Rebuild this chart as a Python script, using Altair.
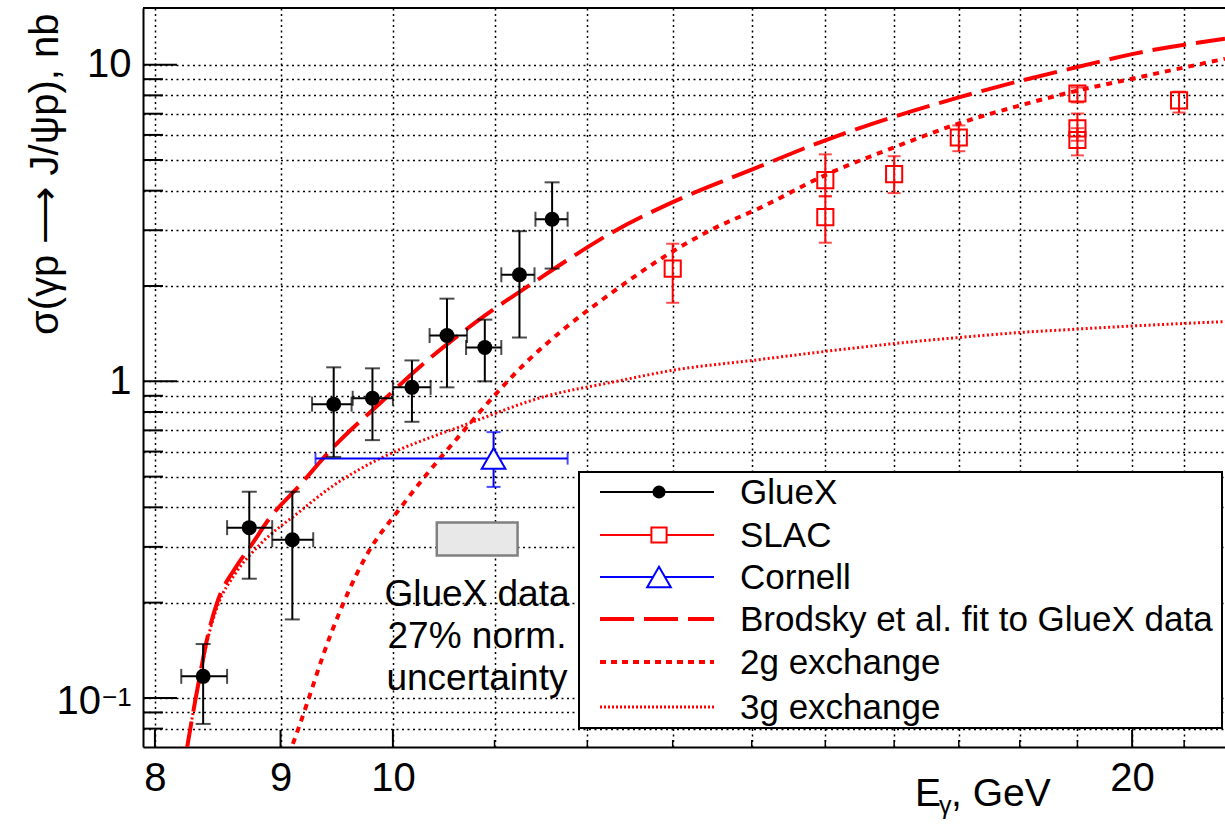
import altair as alt
import pandas as pd

FONT = "Liberation Sans"

# ---------------- data ----------------
# GlueX
gx_E = [8.37, 8.74, 9.10, 9.46, 9.81, 10.18, 10.52, 10.90, 11.26, 11.61]
gx_E_lo = [8.20, 8.56, 8.93, 9.27, 9.63, 10.00, 10.35, 10.71, 11.07, 11.43]
gx_E_hi = [8.56, 8.93, 9.28, 9.62, 10.00, 10.36, 10.72, 11.07, 11.42, 11.78]
gx_s = [0.117, 0.345, 0.316, 0.847, 0.884, 0.957, 1.395, 1.279, 2.17, 3.25]
gx_s_lo = [0.0828, 0.238, 0.177, 0.577, 0.652, 0.745, 0.957, 1.00, 1.375, 2.27]
gx_s_hi = [0.148, 0.448, 0.448, 1.107, 1.099, 1.164, 1.824, 1.566, 2.98, 4.25]

# SLAC
sl_E = [13.0, 15.0, 15.0, 16.0, 17.0, 19.0, 19.0, 19.0, 20.9]
sl_s = [2.27, 4.32, 3.30, 4.51, 5.89, 8.11, 6.29, 5.78, 7.71]
sl_s_lo = [1.77, 3.84, 2.74, 3.93, 5.33, 7.60, 5.75, 5.17, 7.06]
sl_s_hi = [2.72, 5.21, 3.84, 5.14, 6.43, 8.47, 7.01, 6.30, 8.22]

# Cornell
co_E = [10.99]
co_E_lo = [9.30]
co_E_hi = [11.78]
co_s = [0.57]
co_s_lo = [0.464]
co_s_hi = [0.691]

# Brodsky et al. fit (2g + 3g)
br_E = [8.235, 8.31, 8.35, 8.40, 8.49, 8.62, 8.76, 8.90, 9.16, 9.44, 9.90, 10.34,
        10.91, 11.43, 11.83, 12.28, 13.0, 14.0, 15.0, 16.0, 17.0, 18.0, 19.0, 20.0, 21.82]
br_s = [0.066, 0.099, 0.121, 0.153, 0.205, 0.255, 0.305, 0.366, 0.468, 0.61, 0.865, 1.173,
        1.62, 2.07, 2.47, 2.95, 3.68, 4.66, 5.77, 6.85, 7.88, 8.88, 9.83, 10.80, 12.07]

# 2g exchange
g2_E = [9.07, 9.16, 9.44, 9.75, 10.08, 10.34, 10.64, 11.01, 11.33, 11.76, 12.28, 12.87,
        13.48, 14.13, 15.0, 16.0, 17.0, 18.0, 19.0, 20.0, 21.82]
g2_s = [0.066, 0.0816, 0.161, 0.280, 0.402, 0.517, 0.671, 0.910, 1.147, 1.479, 1.905, 2.45,
        3.01, 3.55, 4.48, 5.48, 6.52, 7.43, 8.28, 9.03, 10.44]

# 3g exchange
g3_E = [8.235, 8.31, 8.35, 8.40, 8.49, 8.62, 8.82, 9.16, 9.44, 9.75, 10.03, 10.37, 10.64,
        11.54, 12.28, 13.07, 13.92, 15.0, 16.0, 17.0, 18.0, 19.0, 20.0, 21.82]
g3_s = [0.066, 0.099, 0.12, 0.15, 0.198, 0.245, 0.303, 0.387, 0.464, 0.541, 0.602, 0.667, 0.717,
        0.897, 0.993, 1.091, 1.157, 1.243, 1.316, 1.375, 1.426, 1.462, 1.495, 1.544]

# normalisation uncertainty box
box_E = [10.42, 11.24]
box_s = [0.282, 0.358]
note_lines = ["GlueX data", "27% norm.", "uncertainty"]
note_E = [10.82, 10.82, 10.82]
note_s = [0.1947, 0.1437, 0.106]

x_grid = list(range(8, 22))
x_labels = [8, 9, 10, 20]
y_grid = [0.08, 0.09, 0.1, 0.2, 0.3, 0.4, 0.5, 0.6, 0.7, 0.8, 0.9,
          1, 2, 3, 4, 5, 6, 7, 8, 9, 10]
y_major = [0.1, 1, 10]
y_minor = [v for v in y_grid if v not in y_major]
x_major = [8, 9, 10, 20]
x_minor = [11, 12, 13, 14, 15, 16, 17, 18, 19, 21]

legend_labels = ["GlueX", "SLAC", "Cornell", "Brodsky et al. fit to GlueX data",
                 "2g exchange", "3g exchange"]

# ---------------- layout ----------------
W, H = 1082, 739
xs = alt.Scale(type="log", domain=[7.911, 21.82], nice=False)
ys = alt.Scale(type="log", domain=[0.0700, 15.1], nice=False)

gx = pd.DataFrame(dict(E=gx_E, Elo=gx_E_lo, Ehi=gx_E_hi, s=gx_s, slo=gx_s_lo, shi=gx_s_hi))
sl = pd.DataFrame(dict(E=sl_E, s=sl_s, slo=sl_s_lo, shi=sl_s_hi))
co = pd.DataFrame(dict(E=co_E, Elo=co_E_lo, Ehi=co_E_hi, s=co_s, slo=co_s_lo, shi=co_s_hi))
br = pd.DataFrame(dict(E=br_E, s=br_s))
g2 = pd.DataFrame(dict(E=g2_E, s=g2_s))
g3 = pd.DataFrame(dict(E=g3_E, s=g3_s))
bx = pd.DataFrame(dict(E1=[box_E[0]], E2=[box_E[1]], s1=[box_s[0]], s2=[box_s[1]]))
nt = pd.DataFrame(dict(E=note_E, s=note_s, t=note_lines))

xlab_expr = "indexof([" + ",".join(str(v) for v in x_labels) + "], datum.value) >= 0 ? '' + datum.value : ''"
ylab_expr = "datum.value == 10 ? '10' : (datum.value == 1 ? '1' : '')"

Y_TITLE = "\u03c3(\u03b3p \u27f6 J/\u03c8p), nb"

GRID = dict(grid=True, gridDash=[2, 3.5], gridColor="#000000", gridWidth=1.5, gridOpacity=1)

x_axis = alt.Axis(values=x_grid, labelExpr=xlab_expr, ticks=False, tickSize=0,
                  domain=True, domainColor="black", domainWidth=2,
                  labelFont=FONT, labelFontSize=40, labelColor="black",
                  labelBaseline="alphabetic", labelPadding=43, labelOverlap=False,
                  labelFlush=False, labelBound=False, title=None, **GRID)
y_axis = alt.Axis(values=y_grid, labelExpr=ylab_expr, ticks=False, tickSize=0,
                  domain=True, domainColor="black", domainWidth=2,
                  labelFont=FONT, labelFontSize=40, labelColor="black",
                  labelPadding=12, labelOverlap=False, labelFlush=False, labelBound=False,
                  title=Y_TITLE, titleFont=FONT,
                  titleFontSize=40, titleFontWeight="normal", titleColor="black",
                  titleAngle=270, titleAlign="right", titleBaseline="middle",
                  titleX=-98, titleY=5, **GRID)

RED = "#ff0000"
BLUE = "#0000ff"


def X(field="E"):
    return alt.X(field + ":Q", scale=xs, axis=x_axis, title=None)


def Y(field="s"):
    return alt.Y(field + ":Q", scale=ys, axis=y_axis, title=Y_TITLE)


# curves
brodsky = alt.Chart(br).mark_line(color=RED, strokeWidth=4, strokeDash=[34, 10], clip=True,
                                  interpolate="monotone").encode(x=X(), y=Y())
two_g = alt.Chart(g2).mark_line(color=RED, strokeWidth=4, strokeDash=[6, 6], clip=True,
                                interpolate="monotone").encode(x=X(), y=Y())
three_g = alt.Chart(g3).mark_line(color=RED, strokeWidth=3, strokeDash=[2, 2.5], clip=True,
                                  interpolate="monotone").encode(x=X(), y=Y())

# normalisation box and note
box = alt.Chart(bx).mark_rect(fill="#e8e8e8", stroke="#808080", strokeWidth=2.5).encode(
    x=X("E1"), x2="E2", y=Y("s1"), y2="s2")
note = alt.Chart(nt).mark_text(font=FONT, fontSize=37, color="black", align="center",
                               baseline="alphabetic").encode(x=X(), y=Y(), text="t:N")

# Cornell
co_h = alt.Chart(co).mark_rule(color=BLUE, strokeWidth=2).encode(x=X("Elo"), x2="Ehi", y=Y())
co_v = alt.Chart(co).mark_rule(color=BLUE, strokeWidth=2).encode(x=X(), y=Y("slo"), y2="shi")
co_cx = alt.Chart(co).transform_fold(["Elo", "Ehi"], as_=["k", "v"]).mark_tick(
    color=BLUE, orient="vertical", size=12, thickness=2).encode(x=X("v"), y=Y())
co_cy = alt.Chart(co).transform_fold(["slo", "shi"], as_=["k", "v"]).mark_tick(
    color=BLUE, orient="horizontal", size=14, thickness=2).encode(x=X(), y=Y("v"))
co_pt = alt.Chart(co).mark_point(shape="triangle-up", size=560, filled=True, fill="white",
                                 stroke=BLUE, strokeWidth=2, opacity=1).encode(x=X(), y=Y())

# SLAC
sl_v = alt.Chart(sl).mark_rule(color=RED, strokeWidth=2).encode(x=X(), y=Y("slo"), y2="shi")
sl_c = alt.Chart(sl).transform_fold(["slo", "shi"], as_=["k", "v"]).mark_tick(
    color=RED, orient="horizontal", size=13, thickness=2).encode(x=X(), y=Y("v"))
sl_pt = alt.Chart(sl).mark_point(shape="square", size=260, filled=False, color=RED,
                                 strokeWidth=2, opacity=1).encode(x=X(), y=Y())

# GlueX
gx_h = alt.Chart(gx).mark_rule(color="black", strokeWidth=2).encode(x=X("Elo"), x2="Ehi", y=Y())
gx_v = alt.Chart(gx).mark_rule(color="black", strokeWidth=2).encode(x=X(), y=Y("slo"), y2="shi")
gx_cx = alt.Chart(gx).transform_fold(["Elo", "Ehi"], as_=["k", "v"]).mark_tick(
    color="black", orient="vertical", size=15, thickness=2).encode(x=X("v"), y=Y())
gx_cy = alt.Chart(gx).transform_fold(["slo", "shi"], as_=["k", "v"]).mark_tick(
    color="black", orient="horizontal", size=15, thickness=2).encode(x=X(), y=Y("v"))
gx_pt = alt.Chart(gx).mark_point(shape="circle", size=225, filled=True, color="black",
                                 opacity=1).encode(x=X(), y=Y())

# inward ticks of the frame
ymaj = alt.Chart(pd.DataFrame(dict(v=y_major))).mark_rule(color="black", strokeWidth=2).encode(
    y=Y("v"), x=alt.value(0), x2=alt.value(34))
ymin = alt.Chart(pd.DataFrame(dict(v=y_minor))).mark_rule(color="black", strokeWidth=2).encode(
    y=Y("v"), x=alt.value(0), x2=alt.value(20))
xmaj = alt.Chart(pd.DataFrame(dict(v=x_major))).mark_rule(color="black", strokeWidth=2).encode(
    x=X("v"), y=alt.value(H), y2=alt.value(H - 17))
xmin = alt.Chart(pd.DataFrame(dict(v=x_minor))).mark_rule(color="black", strokeWidth=1.5).encode(
    x=X("v"), y=alt.value(H), y2=alt.value(H - 7))
one = pd.DataFrame(dict(a=[0]))
top = alt.Chart(one).mark_rule(color="black", strokeWidth=2).encode(
    x=alt.value(0), x2=alt.value(W + 2), y=alt.value(0))

# 10^-1 label
lab_10 = alt.Chart(one).mark_text(font=FONT, fontSize=40, align="right", baseline="middle",
                                  color="black").encode(x=alt.value(-42), y=alt.value(694),
                                                        text=alt.value("10"))
lab_m1 = alt.Chart(one).mark_text(font=FONT, fontSize=26, align="left", baseline="top",
                                  color="black").encode(x=alt.value(-41), y=alt.value(677),
                                                        text=alt.value("\u22121"))

# x axis title  E_gamma, GeV
xt_E = alt.Chart(one).mark_text(font=FONT, fontSize=39, align="left", baseline="alphabetic",
                                color="black").encode(x=alt.value(772), y=alt.value(798),
                                                      text=alt.value("E"))
xt_g = alt.Chart(one).mark_text(font=FONT, fontSize=25, align="left", baseline="alphabetic",
                                color="black").encode(x=alt.value(796), y=alt.value(806),
                                                      text=alt.value("\u03b3"))
xt_r = alt.Chart(one).mark_text(font=FONT, fontSize=39, align="left", baseline="alphabetic",
                                color="black").encode(x=alt.value(808), y=alt.value(798),
                                                      text=alt.value(", GeV"))

# legend (drawn box)
LX0, LX1, LY0, LY1 = 436, 1079, 464, 720
row_y = [484, 527, 569, 611, 654, 699]
seg0, seg1, mk, tx = 457, 571, 516, 597
leg_layers = [alt.Chart(one).mark_rect(fill="white", stroke="black", strokeWidth=2).encode(
    x=alt.value(LX0), x2=alt.value(LX1), y=alt.value(LY0), y2=alt.value(LY1))]
leg_styles = [
    dict(color="black", strokeWidth=2),
    dict(color=RED, strokeWidth=2),
    dict(color=BLUE, strokeWidth=2),
    dict(color=RED, strokeWidth=4, strokeDash=[34, 10]),
    dict(color=RED, strokeWidth=4, strokeDash=[6, 5]),
    dict(color=RED, strokeWidth=3, strokeDash=[2, 2]),
]
for lab, yy, st in zip(legend_labels, row_y, leg_styles):
    leg_layers.append(alt.Chart(one).mark_rule(**st).encode(
        x=alt.value(seg0), x2=alt.value(seg1), y=alt.value(yy)))
    leg_layers.append(alt.Chart(one).mark_text(font=FONT, fontSize=35, align="left",
                                               baseline="middle", color="black").encode(
        x=alt.value(tx), y=alt.value(yy + 1), text=alt.value(lab)))
leg_layers.append(alt.Chart(one).mark_point(shape="circle", size=170, filled=True, color="black",
                                            opacity=1).encode(x=alt.value(mk), y=alt.value(row_y[0])))
leg_layers.append(alt.Chart(one).mark_point(shape="square", size=230, filled=True, fill="white",
                                            stroke=RED, strokeWidth=2, opacity=1).encode(
    x=alt.value(mk), y=alt.value(row_y[1])))
leg_layers.append(alt.Chart(one).mark_point(shape="triangle-up", size=560, filled=True, fill="white",
                                            stroke=BLUE, strokeWidth=2, opacity=1).encode(
    x=alt.value(mk), y=alt.value(row_y[2])))

chart = alt.layer(
    brodsky, two_g, three_g, box, note,
    co_h, co_v, co_cx, co_cy, co_pt,
    sl_v, sl_c, sl_pt,
    gx_h, gx_v, gx_cx, gx_cy, gx_pt,
    ymaj, ymin, xmaj, xmin, top,
    lab_10, lab_m1,
    xt_E, xt_g, xt_r,
    *leg_layers,
).properties(
    width=W, height=H,
    padding={"left": 143, "top": 8, "right": 0, "bottom": 88},
    autosize=alt.AutoSizeParams(type="none"),
    background="white",
).configure_view(stroke=None)

chart.save("out.html", embed_options={"renderer": "svg", "actions": False})
